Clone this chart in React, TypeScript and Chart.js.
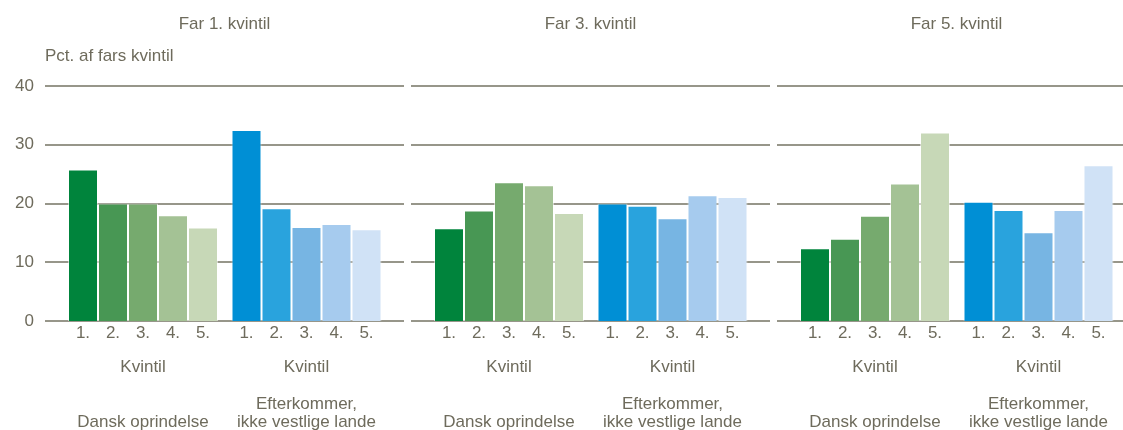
import React, { useEffect, useRef } from "react";
import { Chart, registerables } from "chart.js";

Chart.register(...registerables);

// ---------- data ----------
const panelTitles = ["Far 1. kvintil", "Far 3. kvintil", "Far 5. kvintil"];
const yAxisTitle = "Pct. af fars kvintil";
const quintileLabels = ["1.", "2.", "3.", "4.", "5."];
const groupLabels = [
  ["Kvintil", "", "", "Dansk oprindelse"],
  ["Kvintil", "", "Efterkommer,", "ikke vestlige lande"],
];

const far1Dansk = [25.8, 20.0, 20.0, 18.0, 15.9];
const far1Efterkommer = [32.5, 19.2, 16.0, 16.5, 15.6];
const far3Dansk = [15.8, 18.8, 23.6, 23.1, 18.4];
const far3Efterkommer = [20.0, 19.6, 17.5, 21.4, 21.1];
const far5Dansk = [12.4, 14.0, 17.9, 23.4, 32.1];
const far5Efterkommer = [20.3, 18.9, 15.1, 18.9, 26.5];

const yMin = 0;
const yMax = 40;
const yStep = 10;

// ---------- styles ----------
const greens = ["#00843c", "#489754", "#76aa6e", "#a4c295", "#c7d8b7"];
const blues = ["#008fd5", "#29a3dd", "#77b5e3", "#a6cbee", "#d0e2f6"];
const TEXT = "#6e6b5c";
const GRID = "#97968a";
const FONT_FAMILY = '"Liberation Sans", Arial, Helvetica, sans-serif';
const FONT_SIZE = 17;

const CANVAS_H = 430;
const PANEL_W = 359; // gridline span
const INSET_L = 16.25; // gridline overhang left of plot area
const PAD_R = 18.75;

type PanelProps = {
  title: string;
  dansk: number[];
  efter: number[];
  left: number;
  width: number;
  showY: boolean;
};

function Panel({ title, dansk, efter, left, width, showY }: PanelProps) {
  const ref = useRef<HTMLCanvasElement | null>(null);

  useEffect(() => {
    if (!ref.current) return;
    const datasets = quintileLabels.map((q, i) => ({
      label: q,
      data: [dansk[i], efter[i]],
      backgroundColor: [greens[i], blues[i]],
      borderColor: "rgba(255,255,255,0.55)",
      borderWidth: 1,
      borderSkipped: "bottom" as const,
      categoryPercentage: 150 / 163.5,
      barPercentage: 1,
    }));

    const decor = {
      id: "decor",
      beforeDatasetsDraw(chart: any) {
        const { ctx, chartArea, scales } = chart;
        const y = scales.y;
        const x0 = chartArea.left - INSET_L;
        const x1 = x0 + PANEL_W;
        ctx.save();
        ctx.strokeStyle = GRID;
        ctx.lineWidth = 2;
        y.ticks.forEach((t: any) => {
          const py = Math.round(y.getPixelForValue(t.value));
          ctx.beginPath();
          ctx.moveTo(x0, py);
          ctx.lineTo(x1, py);
          ctx.stroke();
        });
        ctx.restore();
      },
      afterDraw(chart: any) {
        const { ctx, chartArea } = chart;
        const x0 = chartArea.left - INSET_L;
        ctx.save();
        ctx.fillStyle = TEXT;
        ctx.font = `${FONT_SIZE}px ${FONT_FAMILY}`;
        ctx.textBaseline = "middle";
        ctx.textAlign = "center";
        ctx.fillText(title, x0 + PANEL_W / 2, 24);
        if (showY) {
          ctx.textAlign = "left";
          ctx.fillText(yAxisTitle, x0, 56);
        }
        ctx.textAlign = "center";
        chart.data.datasets.forEach((ds: any, di: number) => {
          const meta = chart.getDatasetMeta(di);
          meta.data.forEach((el: any) => {
            ctx.fillText(quintileLabels[di], el.x, chartArea.bottom + 12);
          });
        });
        ctx.restore();
      },
    };

    const chart = new Chart(ref.current, {
      type: "bar",
      data: { labels: groupLabels as any, datasets: datasets as any },
      options: {
        responsive: false,
        animation: false,
        devicePixelRatio: 1,
        layout: {
          padding: { top: 86, bottom: 0, left: showY ? 0 : 20.25, right: PAD_R },
        },
        plugins: {
          legend: { display: false },
          tooltip: { enabled: false },
          title: { display: false },
        },
        scales: {
          x: {
            grid: { display: false, drawTicks: false },
            border: { display: false },
            ticks: {
              color: TEXT,
              padding: 37,
              maxRotation: 0,
              autoSkip: false,
              font: { size: FONT_SIZE, family: FONT_FAMILY, lineHeight: "18.5px" as any },
            },
            afterFit: (s: any) => {
              s.height = 109;
              s.paddingLeft = 0;
              s.paddingRight = 0;
            },
          },
          y: {
            min: yMin,
            max: yMax,
            grid: { display: false, drawTicks: false },
            border: { display: false },
            ticks: {
              display: showY,
              stepSize: yStep,
              color: TEXT,
              padding: 27.25,
              font: { size: FONT_SIZE, family: FONT_FAMILY },
            },
            afterFit: (s: any) => {
              s.width = showY ? 61.25 : 0;
            },
          },
        },
      },
      plugins: [decor],
    });
    return () => chart.destroy();
  }, [title, dansk, efter, showY]);

  return (
    <canvas
      ref={ref}
      width={width}
      height={CANVAS_H}
      style={{ position: "absolute", left, top: 0, width, height: CANVAS_H }}
    />
  );
}

export default function App() {
  return (
    <div
      style={{
        position: "absolute",
        left: 0,
        top: 0,
        width: 1123,
        height: 430,
        overflow: "hidden",
        background: "#ffffff",
      }}
    >
      <Panel title={panelTitles[0]} dansk={far1Dansk} efter={far1Efterkommer} left={0} width={407} showY={true} />
      <Panel title={panelTitles[1]} dansk={far3Dansk} efter={far3Efterkommer} left={407} width={366} showY={false} />
      <Panel title={panelTitles[2]} dansk={far5Dansk} efter={far5Efterkommer} left={773} width={366} showY={false} />
    </div>
  );
}
